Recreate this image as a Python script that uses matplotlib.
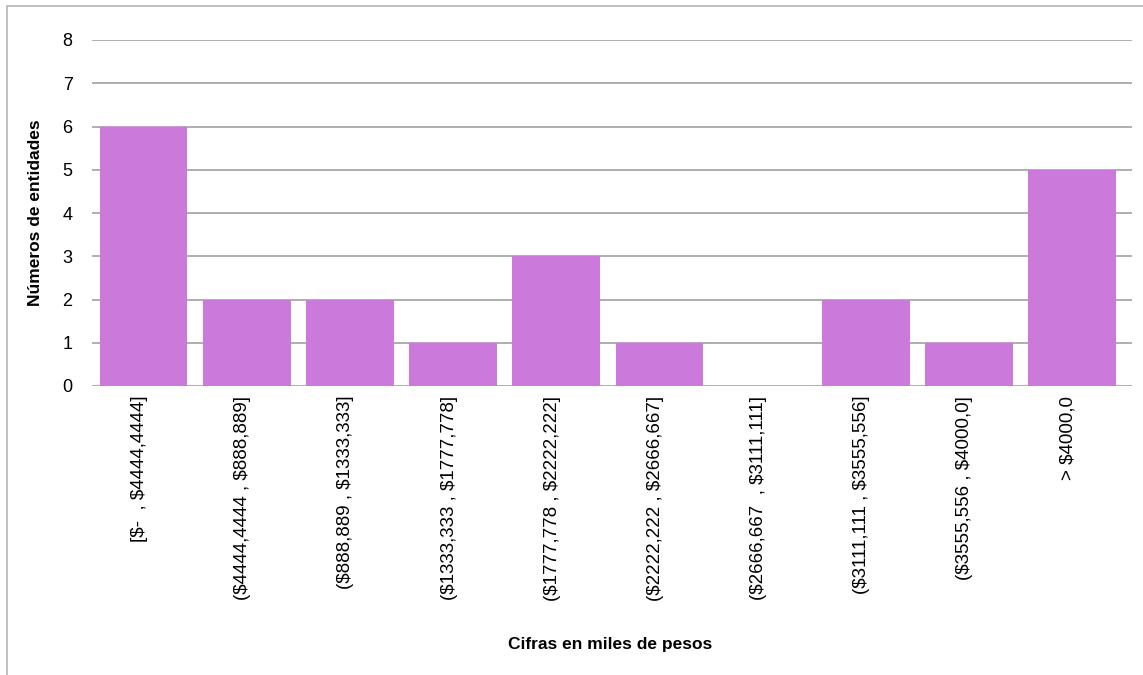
import matplotlib
matplotlib.use("Agg")
import matplotlib.pyplot as plt
import matplotlib.transforms as mtransforms
from matplotlib.patches import Rectangle

categories = [
    "[$-  , $4444,4444]",
    "($4444,4444 , $888,889]",
    "($888,889 , $1333,333]",
    "($1333,333 , $1777,778]",
    "($1777,778 , $2222,222]",
    "($2222,222 , $2666,667]",
    "($2666,667  , $3111,111]",
    "($3111,111 , $3555,556]",
    "($3555,556 , $4000,0]",
    "> $4000,0",
]
counts = [6, 2, 2, 1, 3, 1, 0, 2, 1, 5]
y_ticks = [0, 1, 2, 3, 4, 5, 6, 7, 8]

plt.rcParams["font.family"] = ["Liberation Sans", "DejaVu Sans"]
plt.rcParams["text.parse_math"] = False

W, H = 1143, 675
fig = plt.figure(figsize=(W / 100, H / 100), dpi=100)
ax = fig.add_axes([92 / W, 1 - 386 / H, (1132 - 92) / W, (386 - 40) / H])

# outer frame of the chart
fig.patches.append(Rectangle((7 / W, -0.05), 1.1, 1 - 6 / H + 0.05,
                             transform=fig.transFigure, fill=False,
                             edgecolor="#b5b5b5", linewidth=1.2))

x = list(range(len(categories)))
ax.bar(x, counts, width=0.85, color="#cb7adb", zorder=3)

ax.set_xlim(-0.5, 9.58)
ax.set_ylim(0, 8)
ax.set_yticks(y_ticks)
ax.set_yticklabels([str(v) for v in y_ticks], fontsize=13)
ax.yaxis.grid(True, color="#a8a8a8", linewidth=1.3, zorder=0)
ax.set_axisbelow(True)

ax.set_xticks(x)
ax.set_xticklabels(categories, rotation=90, fontsize=13.5, va="top", ha="center")
ax.tick_params(axis="both", length=0)
ax.tick_params(axis="y", pad=14)
ax.tick_params(axis="x", pad=7)

# nudge the rotated category labels slightly left
shift = mtransforms.ScaledTranslation(-4 / 100, 0, fig.dpi_scale_trans)
for lbl in ax.get_xticklabels():
    lbl.set_transform(lbl.get_transform() + shift)

for s in ax.spines.values():
    s.set_visible(False)

ax.set_ylabel("Números de entidades", fontsize=12.5, fontweight="bold", labelpad=14)
fig.text(610 / W, 1 - 644 / H, "Cifras en miles de pesos", fontsize=12.5,
         fontweight="bold", ha="center", va="center")

fig.savefig("out.png", dpi=100)
